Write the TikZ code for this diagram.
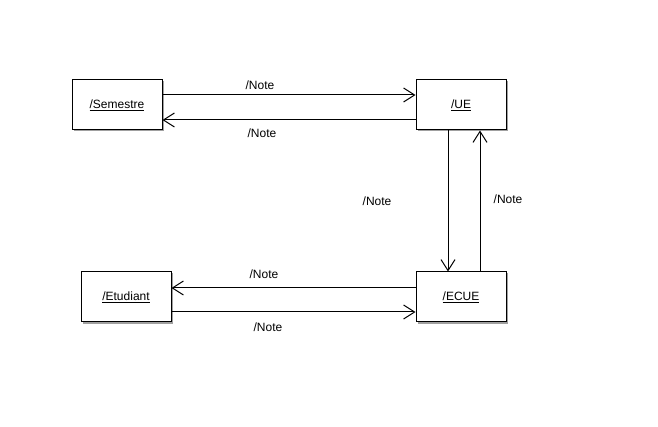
\documentclass[tikz,border=0pt]{standalone}
\usepackage{fontspec}
\setmainfont{Liberation Sans}
\usetikzlibrary{arrows.meta,positioning,shadows}
\definecolor{shade}{HTML}{A0A0A0}

\begin{document}
\begin{tikzpicture}[x=1pt,y=-1pt,line width=1pt,
    font=\fontsize{12}{14}\selectfont,
    box/.style={draw,fill=white,minimum width=90pt,minimum height=50pt,inner sep=0pt,
      drop shadow={shadow xshift=1.5pt,shadow yshift=-1.5pt,fill=shade,opacity=1}},
    msg/.style={-{Straight Barb[length=11pt,width=14pt,line width=1pt]}},
    lbl/.style={inner sep=1pt}]
  \useasboundingbox (0,0) rectangle (658,427);
  % objects
  \foreach \nm/\x/\y/\txt in {%
    sem/117/105/{/Semestre},
    ue/461/105/{/UE},
    etu/126/297/{/Etudiant},
    ecue/461/297/{/ECUE}}
  {
    \node[box] (\nm) at (\x,\y) {\underline{\txt}};
  }
  % messages
  \draw[msg] ([yshift=10pt]sem.east) -- ([yshift=10pt]ue.west);
  \draw[msg] ([yshift=-15pt]ue.west) -- ([yshift=-15pt]sem.east);
  \draw[msg] ([xshift=-13pt]ue.south) -- ([xshift=-13pt]ecue.north);
  \draw[msg] ([xshift=19pt]ecue.north) -- ([xshift=19pt]ue.north |- ue.south);
  \draw[msg] ([yshift=9pt]ecue.west) -- ([yshift=9pt]etu.east);
  \draw[msg] ([yshift=-15pt]etu.east) -- ([yshift=-15pt]ecue.west);
  % labels
  \node[lbl] (n1) at (260,85) {/Note};
  \node[lbl] (n2) at (262,133) {/Note};
  \node[lbl] (n3) at (377,201) {/Note};
  \node[lbl] (n4) at (508,199) {/Note};
  \node[lbl] (n5) at (264,274) {/Note};
  \node[lbl] (n6) at (268,327) {/Note};
\end{tikzpicture}
\end{document}
